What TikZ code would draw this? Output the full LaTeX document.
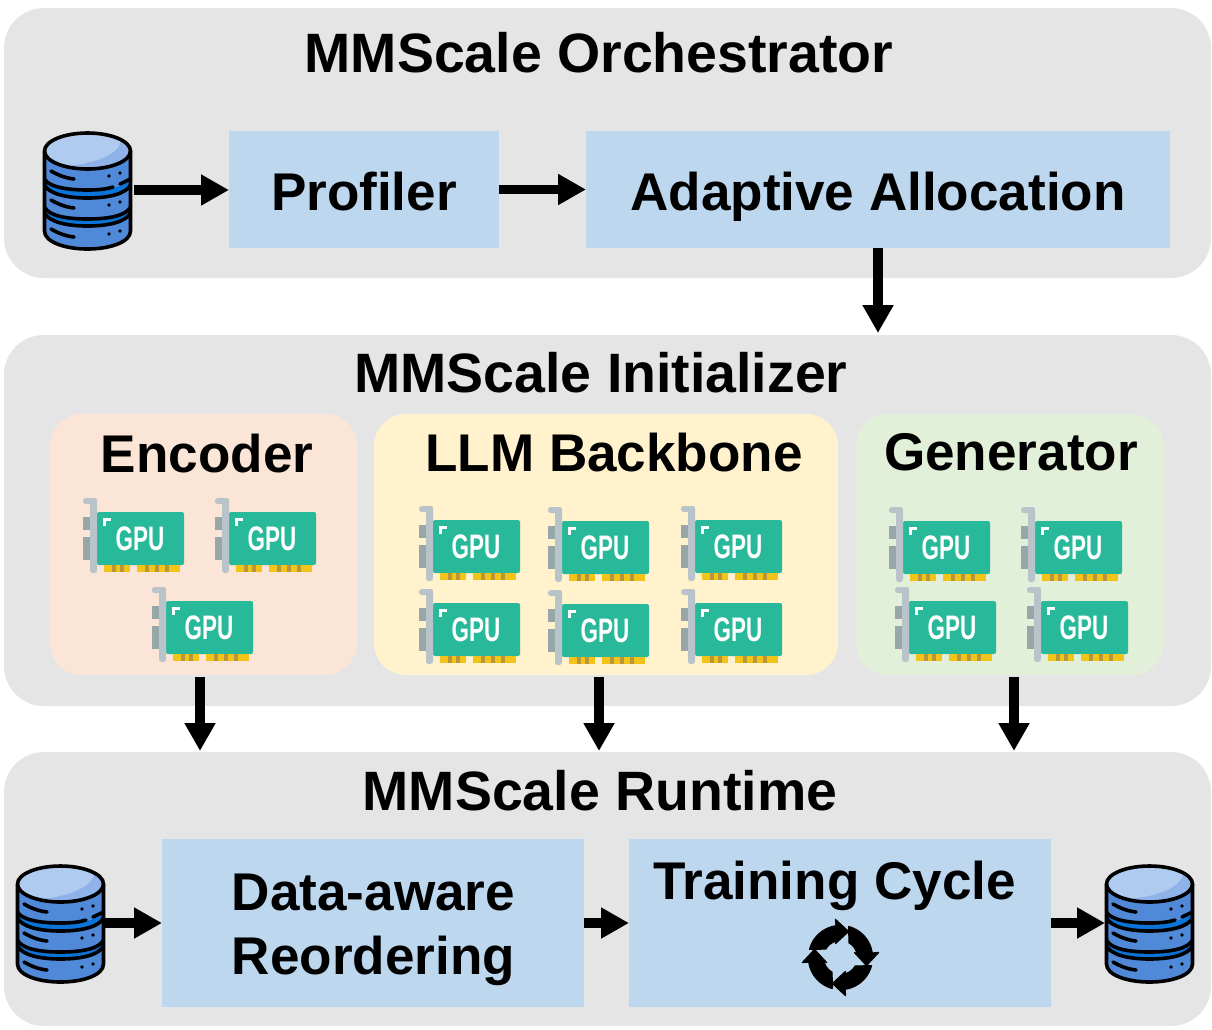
\documentclass[tikz,border=0pt]{standalone}
\usepackage{fontspec}
\usepackage{graphicx}
\setmainfont{Liberation Sans}
\usetikzlibrary{arrows.meta}
\definecolor{panelgray}{HTML}{E5E5E5}
\definecolor{boxblue}{HTML}{BDD7EE}
\definecolor{encbg}{HTML}{FBE5D6}
\definecolor{llmbg}{HTML}{FFF2CC}
\definecolor{genbg}{HTML}{E2F0D9}
\definecolor{dbtop}{HTML}{AFCBEF}
\definecolor{dbcres}{HTML}{8FB3E8}
\definecolor{dbbody}{HTML}{5089D8}
\definecolor{dbband}{HTML}{0A74D8}
\definecolor{gpugreen}{HTML}{27B999}
\definecolor{gpubracket}{HTML}{B8C4CA}
\definecolor{gpuport}{HTML}{97A6A6}
\definecolor{gpugold}{HTML}{F2C318}
\definecolor{gpugolddk}{HTML}{B8963A}
\tikzset{
  x=0.75pt,y=-0.75pt,
  sz/.style 2 args={minimum width=#1*0.75pt,minimum height=#2*0.75pt,inner sep=0pt,outer sep=0pt},
  bigfont/.style={font=\bfseries\fontsize{39.8}{48}\selectfont,text=black},
  panelfont/.style={font=\bfseries\fontsize{41.6}{48}\selectfont,text=black},
  panel/.style={fill=panelgray,rounded corners=30pt},
  innerbox/.style={rounded corners=24pt},
  bluebox/.style={fill=boxblue,bigfont,align=left},
  onelinebox/.style={bluebox,text height=41pt,text depth=9pt},
  titlelab/.style={bigfont,inner sep=0pt,align=left},
  paneltitle/.style={panelfont,inner sep=0pt},
  conn/.style={line width=7pt,-{Triangle[length=21pt,width=22pt]},black},
  dbline/.style={line width=2.7pt,line cap=round,line join=round,black},
  gpu/.pic={
    \fill[gpugreen,rounded corners=1.5pt] (14,14) rectangle (101,67);
    \fill[gpuport] (0,19) rectangle (8,32);
    \fill[gpuport] (0,39) rectangle (8,62);
    \fill[gpubracket,rounded corners=2pt] (0,0) rectangle (14,6);
    \fill[gpubracket,rounded corners=2pt] (7,0) rectangle (14,75);
    \fill[gpugold] (21,67) rectangle (47,74);
    \fill[gpugold] (54,67) rectangle (97,74);
    \foreach \q in {29,37,62,72,82}{\fill[gpugolddk] (\q,67) rectangle (\q+4,74);}
    \fill[white] (20,20) rectangle (28,23);
    \fill[white] (20,20) rectangle (23,28);
    \node[text=white,inner sep=0pt] at (57,41) {\scalebox{.66}[1]{\bfseries\fontsize{25.5}{26}\selectfont GPU}};
  },
  dbase/.pic={
    \fill[dbbody] (1.5,19) -- (1.5,99) .. controls (1.5,110) and (22,117) .. (44.5,117) .. controls (67,117) and (87.5,110) .. (87.5,99) -- (87.5,19) -- cycle;
    \fill[dbband] (1.5,47) .. controls (6,55) and (24,58) .. (44.5,58) .. controls (65,58) and (83,55) .. (87.5,47) -- (87.5,53) .. controls (83,62) and (65,66) .. (44.5,66) .. controls (24,66) and (6,62) .. (1.5,53) -- cycle;
    \fill[dbband] (1.5,75) .. controls (6,84) and (24,87) .. (44.5,87) .. controls (65,87) and (83,84) .. (87.5,75) -- (87.5,81) .. controls (83,90) and (65,94) .. (44.5,94) .. controls (24,94) and (6,90) .. (1.5,81) -- cycle;
    \fill[dbtop] (44.5,19) ellipse[x radius=43,y radius=18];
    \fill[dbcres] (78,9) .. controls (76,24) and (45,34) .. (17,34) .. controls (30,37) and (60,38) .. (75,31) .. controls (87,25) and (90,15) .. (78,9) -- cycle;
    \draw[dbline] (44.5,19) ellipse[x radius=43,y radius=18];
    \draw[dbline] (1.5,19) -- (1.5,99) .. controls (1.5,110) and (22,117) .. (44.5,117) .. controls (67,117) and (87.5,110) .. (87.5,99) -- (87.5,19);
    \draw[dbline] (1.5,47) .. controls (6,55) and (24,58) .. (44.5,58) .. controls (56,58) and (64,57) .. (70,55);
    \draw[dbline] (77,52) -- (87.5,47);
    \draw[dbline] (1.5,53) .. controls (6,62) and (24,66) .. (44.5,66) .. controls (65,66) and (83,62) .. (87.5,53);
    \draw[dbline] (1.5,75) .. controls (6,84) and (24,87) .. (44.5,87) .. controls (65,87) and (83,84) .. (87.5,75);
    \draw[dbline] (1.5,81) .. controls (6,90) and (24,94) .. (44.5,94) .. controls (65,94) and (83,90) .. (87.5,81);
    \foreach \d in {0,29,58}{
      \draw[dbline] (8,39+\d) .. controls (15,43+\d) and (22,46+\d) .. (31,47+\d);
      \fill[black] (66,44+\d) circle[radius=1.8];
      \fill[black] (77,41+\d) circle[radius=1.8];
    }
  },
  cyclearm/.pic={
    \fill[black,line join=round,draw=black,line width=1pt]
      plot[domain=98:165,samples=14] ({32*cos(\x)},{-32*sin(\x)})
      -- plot[domain=150:100,samples=12] ({17*cos(\x)},{-17*sin(\x)})
      -- (-5,-14) -- (8,-26) -- (-5,-38) -- cycle;
  }
}
\begin{document}
\begin{tikzpicture}
\useasboundingbox (0,0) rectangle (1212,1029);
\fill[white] (0,0) rectangle (1212,1029);
% panels
\node[panel,sz={1207}{270}] (orch) at (607.5,143) {};
\node[panel,sz={1207}{371}] (init) at (607.5,520.5) {};
\node[panel,sz={1207}{274}] (run) at (607.5,889) {};
\node[paneltitle] (orchT) at (599,53) {MMScale Orchestrator};
\node[paneltitle] (initT) at (601,373) {MMScale Initializer};
\node[paneltitle] (runT) at (600,791) {MMScale Runtime};
% orchestrator
\node[onelinebox,sz={270}{117}] (prof) at (364,189.5) {Profiler};
\node[onelinebox,sz={584}{117}] (adapt) at (878,189.5) {Adaptive Allocation};
\node[sz={92}{117}] (db1) at (87.5,190) {};
\pic at (43,132) {dbase};
% initializer groups
\node[innerbox,fill=encbg,sz={307}{261}] (enc) at (203.5,544.5) {};
\node[innerbox,fill=llmbg,sz={464}{261}] (llm) at (606,544.5) {};
\node[innerbox,fill=genbg,sz={308}{261}] (gen) at (1010,544.5) {};
\node[titlelab] (encT) at (207,454) {Encoder};
\node[titlelab] (llmT) at (614,453) {LLM Backbone};
\node[titlelab] (genT) at (1011,452) {Generator};
\foreach \px/\py in {83/498,215/498,152/587,
  419/506,548/507,681/506,419/589,548/590,681/589,
  889/507,1021/507,895/587,1027/587}{
  \pic at (\px,\py) {gpu};
}
% runtime
\node[bluebox,sz={422}{168}] (reord) at (373,923) {};
\node[titlelab] (reordT) at (373.5,930) {Data-aware\\Reordering};
\node[bluebox,sz={422}{168}] (train) at (840,923) {};
\node[titlelab] (trainT) at (834.5,886) {Training Cycle};
\foreach \r in {0,90,180,270}{
  \pic[rotate=\r] at (840.5,957.5) {cyclearm};
}
\node[sz={88}{117}] (db2) at (60,923) {};
\node[sz={88}{117}] (db3) at (1149,923) {};
\pic at (16,865) {dbase};
\pic at (1105,865) {dbase};
% connector ends
\coordinate (a1) at (200,751);
\coordinate (a1s) at (200,677);
\coordinate (a2) at (599,751);
\coordinate (a2s) at (599,677);
\coordinate (a3) at (1014,751);
\coordinate (a3s) at (1014,677);
\coordinate (a4) at (878,333);
% connectors
\draw[conn] (db1.east) -- (db1.east -| prof.west);
\draw[conn] (prof.east) -- (adapt.west);
\draw[conn] (adapt.south) -- (a4);
\draw[conn] (a1s) -- (a1);
\draw[conn] (a2s) -- (a2);
\draw[conn] (a3s) -- (a3);
\draw[conn] (db2.east) -- (reord.west);
\draw[conn] (reord.east) -- (train.west);
\draw[conn] (train.east) -- (db3.west);
\end{tikzpicture}
\end{document}
